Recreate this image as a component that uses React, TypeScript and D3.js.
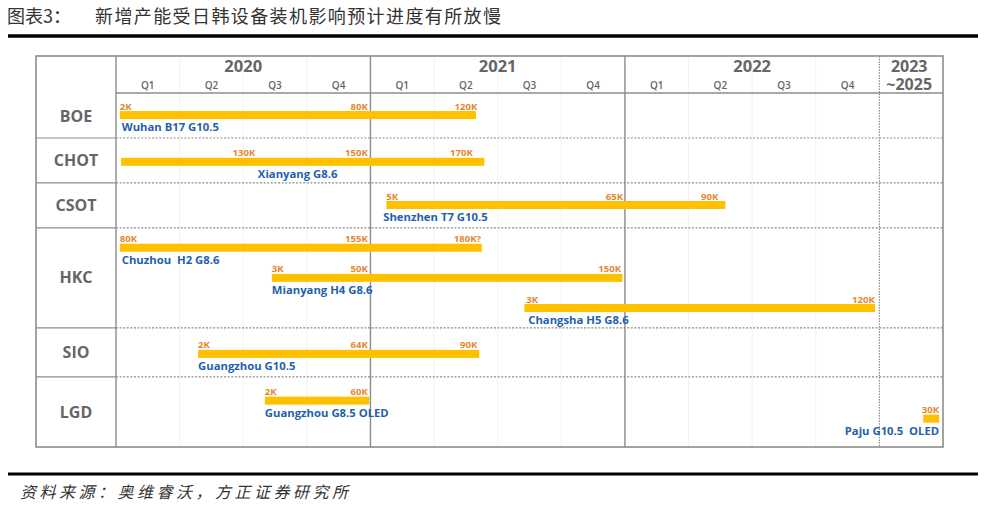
import React from 'react';
import * as d3 from 'd3';

const titleLabel = '图表3：';
const titleText = '新增产能受日韩设备装机影响预计进度有所放慢';
const sourceText = '资料来源：奥维睿沃，方正证券研究所';

const years = ['2020', '2021', '2022'];
const quarters = ['Q1', 'Q2', 'Q3', 'Q4'];
const lastColumnLines = ['2023', '~2025'];
const companies = ['BOE', 'CHOT', 'CSOT', 'HKC', 'SIO', 'LGD'];
const rowSpans = [1, 1, 1, 2.22, 1.09, 1.56];

// time in quarters from start of 2020 (2023~2025 column spans 12..13)
const barCompany = ['BOE', 'CHOT', 'CSOT', 'HKC', 'HKC', 'HKC', 'SIO', 'LGD', 'LGD'];
const barLane = [0.49, 0.53, 0.49, 0.44, 1.11, 1.78, 0.58, 0.53, 0.93];
const barStart = [0.06, 0.08, 4.25, 0.06, 2.45, 6.42, 1.29, 2.34, 12.69];
const barEnd = [5.66, 5.79, 9.58, 5.75, 7.96, 11.93, 5.71, 3.98, 12.94];
const barNames = [
  'Wuhan B17 G10.5',
  'Xianyang G8.6',
  'Shenzhen T7 G10.5',
  'Chuzhou  H2 G8.6',
  'Mianyang H4 G8.6',
  'Changsha H5 G8.6',
  'Guangzhou G10.5',
  'Guangzhou G8.5 OLED',
  'Paju G10.5  OLED',
];
const nameT = [0.09, 2.23, 4.2, 0.09, 2.45, 6.48, 1.29, 2.34, 12.94];
const nameAnchor = ['start', 'start', 'start', 'start', 'start', 'start', 'start', 'start', 'end'];

const msBar = [0, 0, 0, 1, 1, 1, 2, 2, 2, 3, 3, 3, 4, 4, 4, 5, 5, 6, 6, 6, 7, 7, 8];
const msT = [0.06, 3.96, 5.68, 2.19, 3.96, 5.61, 4.25, 7.97, 9.47, 0.06, 3.96, 5.74, 2.45, 3.96, 7.94, 6.45, 11.93, 1.29, 3.96, 5.68, 2.34, 3.96, 12.94];
const msLabel = ['2K', '80K', '120K', '130K', '150K', '170K', '5K', '65K', '90K', '80K', '155K', '180K?', '3K', '50K', '150K', '3K', '120K', '2K', '64K', '90K', '2K', '60K', '30K'];
const msAnchor = ['start', 'end', 'end', 'end', 'end', 'end', 'start', 'end', 'end', 'start', 'end', 'end', 'start', 'end', 'end', 'start', 'end', 'start', 'end', 'end', 'start', 'end', 'end'];

const W = 988;
const H = 506;
const left = 36;
const colX = 116;
const right = 943;
const top = 56;
const headY = 93;
const bottom = 447;

const GRID = '#8c8c8c';
const TEXT_GRAY = '#666666';
const BAR = '#FFC000';
const ORANGE = '#E8862E';
const BLUE = '#1F5FAD';
const FONT = '"Open Sans", "Noto Sans", sans-serif';
const CJK = '"Noto Sans CJK SC", serif';

export default function App() {
  const x = d3.scaleLinear().domain([0, 13]).range([colX, right]);
  const total = d3.sum(rowSpans);
  const y = d3.scaleLinear().domain([0, total]).range([headY, bottom]);
  const rowStart: number[] = [];
  let acc = 0;
  rowSpans.forEach((s) => {
    rowStart.push(acc);
    acc += s;
  });
  const rowIndex = (c: string) => companies.indexOf(c);
  const barY = (i: number) => y(rowStart[rowIndex(barCompany[i])] + barLane[i]);
  const barH = 8;

  const quarterTicks = d3.range(1, 12).filter((t) => t % 4 !== 0);

  return (
    <svg width={W} height={H} style={{ position: 'absolute', left: 0, top: 0, background: '#fff' }}>
      <rect x={0} y={0} width={W} height={H} fill="#fff" />
      {/* title */}
      <text x={7} y={23} fontFamily={CJK} fontSize={18} fill="#333">{titleLabel}</text>
      <text x={95} y={23} fontFamily={CJK} fontSize={18} fill="#333" letterSpacing={1.4}>{titleText}</text>
      <line x1={8} x2={978} y1={36} y2={36} stroke="#000" strokeWidth={3.5} />

      {/* faint quarter grid */}
      {quarterTicks.map((t) => (
        <line key={'q' + t} x1={x(t)} x2={x(t)} y1={top} y2={bottom} stroke="#f2f2f2" strokeWidth={1} />
      ))}

      {/* row separators */}
      {rowStart.slice(1).map((s, i) => (
        <g key={'r' + i}>
          <line x1={left} x2={colX} y1={y(s)} y2={y(s)} stroke={GRID} strokeWidth={1.2} />
          <line x1={colX} x2={right} y1={y(s)} y2={y(s)} stroke={GRID} strokeWidth={1.2} strokeDasharray="2,1.6" />
        </g>
      ))}
      {/* header line */}
      <line x1={colX} x2={right} y1={headY} y2={headY} stroke={GRID} strokeWidth={1.4} />

      {/* vertical dividers */}
      <line x1={colX} x2={colX} y1={top} y2={bottom} stroke={GRID} strokeWidth={1.4} />
      {[4, 8].map((t) => (
        <line key={'y' + t} x1={x(t)} x2={x(t)} y1={top} y2={bottom} stroke={GRID} strokeWidth={1.4} />
      ))}
      <line x1={x(12)} x2={x(12)} y1={top} y2={bottom} stroke={GRID} strokeWidth={1.2} strokeDasharray="1.5,1.2" />

      {/* outer border */}
      <rect x={left} y={top} width={right - left} height={bottom - top} fill="none" stroke={GRID} strokeWidth={1.6} />

      {/* header labels */}
      {years.map((yr, i) => (
        <g key={yr}>
          <text x={x(i * 4 + 2)} y={72} textAnchor="middle" fontFamily={FONT} fontWeight={700} fontSize={16.5} fill={TEXT_GRAY}>{yr}</text>
          {quarters.map((q, j) => (
            <text key={q} x={x(i * 4 + j + 0.5)} y={89} textAnchor="middle" fontFamily={FONT} fontWeight={600} fontSize={10} fill={TEXT_GRAY}>{q}</text>
          ))}
        </g>
      ))}
      <text x={x(12.5) - 2} y={71.5} textAnchor="middle" fontFamily={FONT} fontWeight={700} fontSize={16} fill={TEXT_GRAY}>
        {lastColumnLines.map((l, i) => (
          <tspan key={l} x={x(12.5) - 2} dy={i === 0 ? 0 : 18}>{l}</tspan>
        ))}
      </text>

      {/* company labels */}
      {companies.map((c, i) => (
        <text key={c} x={(left + colX) / 2} y={y(rowStart[i] + rowSpans[i] / 2) + (i === 0 ? 1 : 0)} dy="0.35em" textAnchor="middle" fontFamily={FONT} fontWeight={700} fontSize={16} fill={TEXT_GRAY}>{c}</text>
      ))}

      {/* bars */}
      {barStart.map((s, i) => (
        <rect key={'b' + i} x={x(s)} y={barY(i) - barH / 2} width={x(barEnd[i]) - x(s)} height={barH} fill={BAR} />
      ))}

      {/* milestone labels */}
      {msLabel.map((l, k) => (
        <text key={'m' + k} x={x(msT[k])} y={barY(msBar[k]) - 5.5} textAnchor={msAnchor[k] as any} fontFamily={FONT} fontWeight={700} fontSize={9.6} fill={ORANGE}>{l}</text>
      ))}

      {/* plant names */}
      {barNames.map((n, i) => (
        <text key={'n' + i} x={x(nameT[i])} y={barY(i) + 16} textAnchor={nameAnchor[i] as any} fontFamily={FONT} fontWeight={700} fontSize={11.3} fill={BLUE} style={{ whiteSpace: 'pre' }}>{n}</text>
      ))}

      {/* footer */}
      <line x1={8} x2={978} y1={474} y2={474} stroke="#000" strokeWidth={3} />
      <text x={20} y={498} fontFamily={CJK} fontStyle="italic" fontSize={16} fill="#333" letterSpacing={3.5}>{sourceText}</text>
    </svg>
  );
}
